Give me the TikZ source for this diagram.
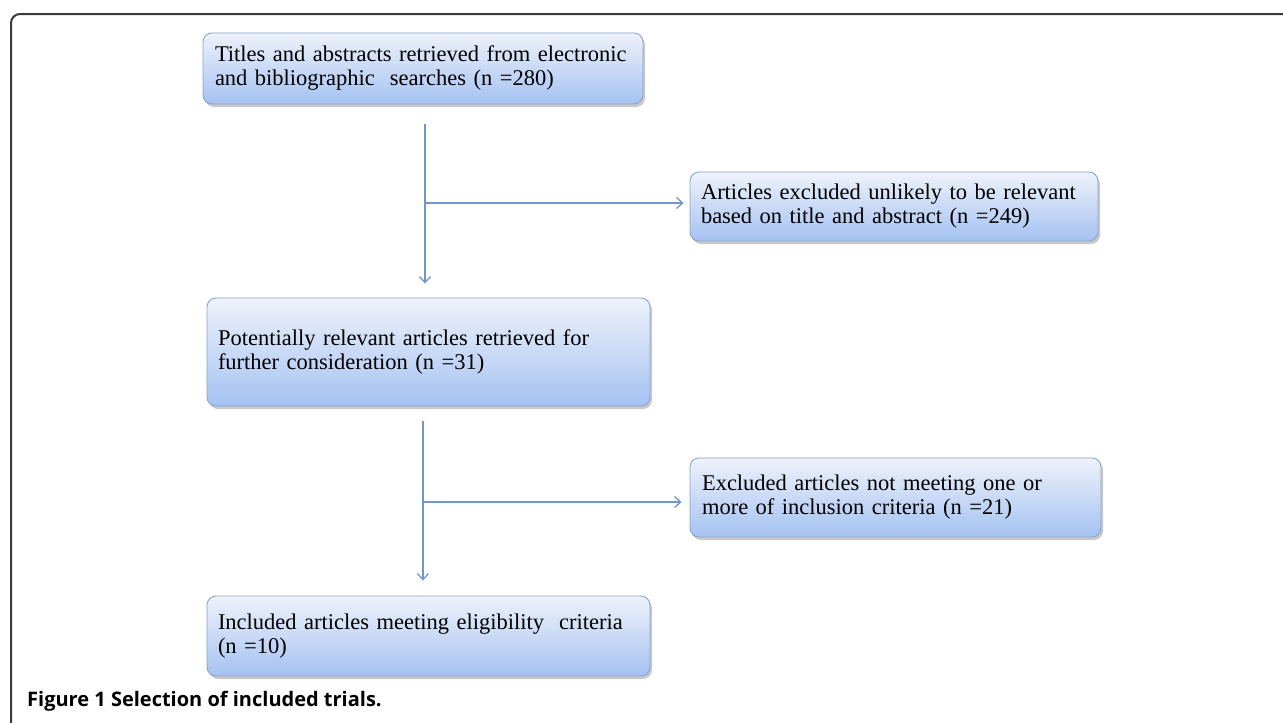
\documentclass[tikz,border=0pt]{standalone}
\usepackage{fontspec}
\setmainfont{Liberation Serif}
\newfontfamily\capfont{Open Sans}
\usetikzlibrary{arrows.meta,shadows}
\definecolor{boxtop}{HTML}{EEF2FA}
\definecolor{boxbot}{HTML}{A5C2F2}
\definecolor{boxline}{HTML}{8AA4CC}
\definecolor{arrcol}{HTML}{6F96CF}
\definecolor{framecol}{HTML}{3A3A3A}
\tikzset{
  box/.style={rounded corners=9pt, draw=boxline, line width=0.9pt,
    top color=boxtop, bottom color=boxbot,
    drop shadow={shadow xshift=2pt, shadow yshift=-3pt, opacity=0.35, fill=black!60},
    align=left, inner ysep=0pt, font=\fontsize{22.5}{24}\selectfont},
  arr/.style={draw=arrcol, line width=1.3pt, -{Straight Barb[length=6pt,width=11pt,line width=1.3pt]}},
  ln/.style={draw=arrcol, line width=1.3pt}
}
\begin{document}
\begin{tikzpicture}[x=1pt,y=-1pt]
\useasboundingbox (0,0) rectangle (1283,723);
\fill[white] (0,0) rectangle (1283,723);
\draw[framecol, line width=2pt, rounded corners=9pt] (11,730) -- (11,14) -- (1290,14);

\node[box, inner xsep=12pt, text width=416pt, minimum height=71pt] (b1) at (423,68.5)
  {Titles and abstracts retrieved from electronic\\and bibliographic\ \ searches (n =280)};
\node[box, inner xsep=11pt, text width=386pt, minimum height=69pt] (b2) at (894,206.5)
  {Articles excluded unlikely to be relevant\\based on title and abstract (n =249)};
\node[box, inner xsep=11pt, text width=421pt, minimum height=108pt] (b3) at (428.5,352)
  {Potentially relevant articles retrieved for\\further consideration (n =31)};
\node[box, inner xsep=12pt, text width=387pt, minimum height=79pt] (b4) at (895.5,497.5)
  {Excluded articles not meeting one or\\more of inclusion criteria (n =21)};
\node[box, inner xsep=11pt, text width=421pt, minimum height=80pt] (b5) at (428.5,636)
  {Included articles meeting eligibility\ \ criteria\\(n =10)};

\coordinate (v1) at (425,124);
\coordinate (h1) at (425,203);
\coordinate (v2) at (423,421);
\coordinate (h2) at (423,502);

\draw[arr, shorten >=14pt] (v1) -- (v1 |- b3.north);
\draw[arr, shorten >=6pt] (h1) -- (h1 -| b2.west);
\draw[arr, shorten >=15pt] (v2) -- (v2 |- b5.north);
\draw[arr, shorten >=8pt] (h2) -- (h2 -| b4.west);

\node[anchor=base west, inner sep=0pt, font=\capfont\bfseries\fontsize{20}{22}\selectfont] (cap) at (27,706)
  {Figure 1 Selection of included trials.};
\end{tikzpicture}
\end{document}
